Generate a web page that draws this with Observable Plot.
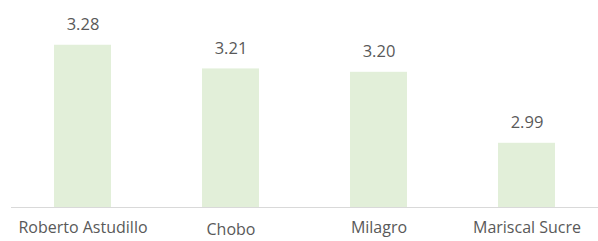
<!DOCTYPE html>
<html>
<head>
<meta charset="utf-8">
<script src="https://cdn.jsdelivr.net/npm/d3@7"></script>
<script src="https://cdn.jsdelivr.net/npm/@observablehq/plot@0.6"></script>
<style>
  html, body { margin: 0; padding: 0; background: #ffffff; }
  #chart svg { display: block; }
</style>
</head>
<body>
<div id="chart"></div>
<script>
const categories = ["Roberto Astudillo", "Chobo", "Milagro", "Mariscal Sucre"];
const values = [3.28, 3.21, 3.20, 2.99];
const valueLabels = ["3.28", "3.21", "3.20", "2.99"];
const yMin = 2.8;
const yMax = 3.3;

const data = categories.map((name, i) => ({ name, value: values[i], label: valueLabels[i] }));
const lowered = ["Chobo"];

const textColor = "#595959";
const font = "'Open Sans', sans-serif";

const chart = Plot.plot({
  width: 598,
  height: 241,
  marginTop: 38,
  marginBottom: 34,
  marginLeft: 11,
  marginRight: 0,
  style: { fontFamily: font, background: "#ffffff" },
  x: { domain: categories, paddingInner: 0.615, paddingOuter: 0.29, axis: null },
  y: { domain: [yMin, yMax], axis: null },
  marks: [
    Plot.barY(data, { x: "name", y1: () => yMin, y2: "value", fill: "#e2efd9" }),
    Plot.ruleY([yMin], { stroke: "#d9d9d9", strokeWidth: 1.2 }),
    Plot.text(data, {
      x: "name", y: "value", text: "label",
      lineAnchor: "bottom", dy: -15,
      fill: textColor, fontSize: 16.5, letterSpacing: "0.5px"
    }),
    Plot.text(data.filter(d => !lowered.includes(d.name)), {
      x: "name", y: () => yMin, text: "name",
      lineAnchor: "middle", dy: 20.5,
      fill: textColor, fontSize: 16
    }),
    Plot.text(data.filter(d => lowered.includes(d.name)), {
      x: "name", y: () => yMin, text: "name",
      lineAnchor: "middle", dy: 22.5,
      fill: textColor, fontSize: 16
    })
  ]
});
document.getElementById("chart").appendChild(chart);
</script>
</body>
</html>
